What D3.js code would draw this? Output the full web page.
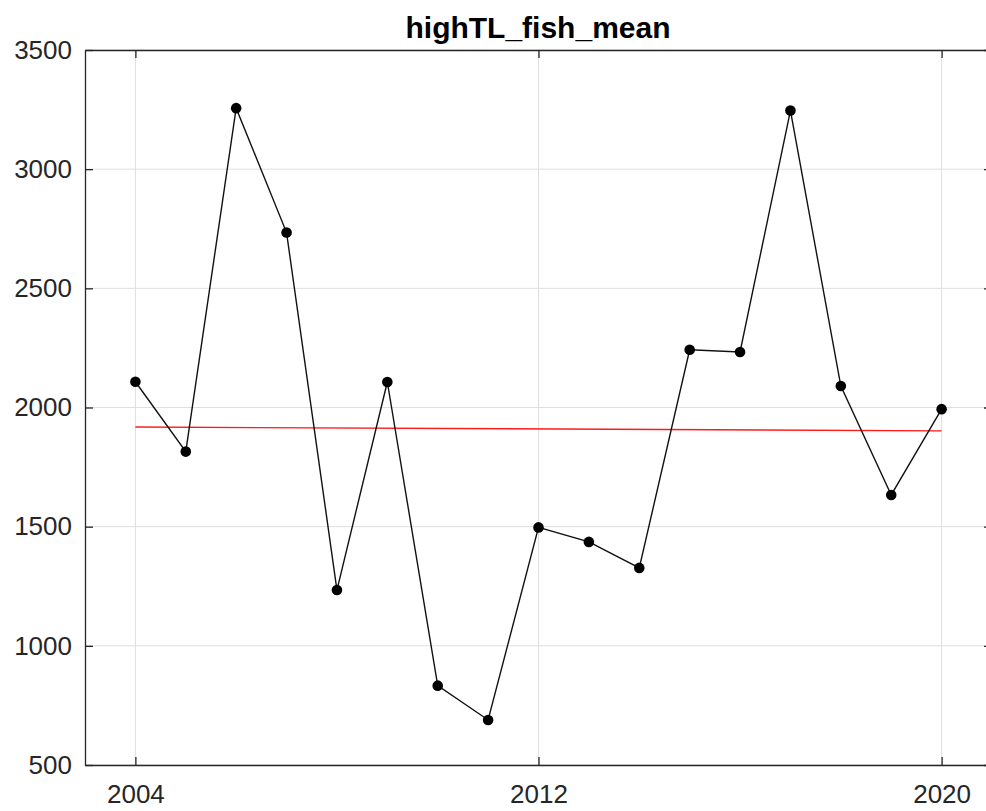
<!DOCTYPE html>
<html>
<head>
<meta charset="utf-8">
<script src="https://cdn.jsdelivr.net/npm/d3@7"></script>
<style>
  body { margin: 0; background: #fff; }
  svg { display: block; font-family: "Liberation Sans", Arial, sans-serif; }
</style>
</head>
<body>
<svg id="chart" width="986" height="811"></svg>
<script>
'use strict';

const years = [2004, 2005, 2006, 2007, 2008, 2009, 2010, 2011, 2012,
  2013, 2014, 2015, 2016, 2017, 2018, 2019, 2020];
const fishMean = [2108, 1815, 3256, 2734, 1234, 2107, 833, 689, 1497,
  1436, 1327, 2242, 2233, 3246, 2090, 1633, 1993];
const trendYears = [2004, 2020];
const trendValues = [1918, 1902];
const xTicks = [2004, 2012, 2020];
const yTicks = [500, 1000, 1500, 2000, 2500, 3000, 3500];
const title = 'highTL_fish_mean';

const margin = { top: 50, right: -6, bottom: 46, left: 85 };
const width = 986, height = 811;
const axisColor = '#262626';

const svg = d3.select('#chart');

const x = d3.scaleLinear()
  .domain([2003, 2021])
  .range([margin.left, width - margin.right]);

const y = d3.scaleLinear()
  .domain([500, 3500])
  .range([height - margin.bottom, margin.top]);

const x0 = x.range()[0], x1 = x.range()[1];
const y0 = y.range()[0], y1 = y.range()[1];

// grid
svg.append('g')
  .selectAll('line')
  .data(xTicks)
  .join('line')
  .attr('x1', (d) => x(d)).attr('x2', (d) => x(d))
  .attr('y1', y1).attr('y2', y0)
  .attr('stroke', '#dfdfdf').attr('stroke-width', 1);

svg.append('g')
  .selectAll('line')
  .data(yTicks)
  .join('line')
  .attr('x1', x0).attr('x2', x1)
  .attr('y1', (d) => y(d)).attr('y2', (d) => y(d))
  .attr('stroke', '#dfdfdf').attr('stroke-width', 1);

// axes, ticks inward like matlab
const styleAxis = (g) =>
  g.call((g) => g.select('.domain').attr('stroke', axisColor).attr('stroke-width', 1.3))
    .call((g) => g.selectAll('.tick line').attr('stroke', axisColor).attr('stroke-width', 1.3))
    .call((g) => g.selectAll('.tick text').attr('fill', axisColor).attr('font-size', 26));

svg.append('g')
  .attr('transform', `translate(0,${y0})`)
  .call(d3.axisBottom(x).tickValues(xTicks).tickFormat(d3.format('d'))
    .tickSizeInner(-8).tickSizeOuter(0).tickPadding(20))
  .call(styleAxis);

svg.append('g')
  .attr('transform', `translate(0,${y1})`)
  .call(d3.axisTop(x).tickValues(xTicks).tickFormat('')
    .tickSizeInner(-8).tickSizeOuter(0))
  .call(styleAxis);

svg.append('g')
  .attr('transform', `translate(${x0},0)`)
  .call(d3.axisLeft(y).tickValues(yTicks).tickFormat(d3.format('d'))
    .tickSizeInner(-8).tickSizeOuter(0).tickPadding(13))
  .call(styleAxis);

svg.append('g')
  .attr('transform', `translate(${x1},0)`)
  .call(d3.axisRight(y).tickValues(yTicks).tickFormat('')
    .tickSizeInner(-8).tickSizeOuter(0))
  .call(styleAxis);

// trend line
const trend = trendYears.map((d, i) => [d, trendValues[i]]);
svg.append('path')
  .datum(trend)
  .attr('fill', 'none')
  .attr('stroke', '#ff1a1a')
  .attr('stroke-width', 1.4)
  .attr('d', d3.line().x((d) => x(d[0])).y((d) => y(d[1])));

// data line
const series = years.map((d, i) => [d, fishMean[i]]);
svg.append('path')
  .datum(series)
  .attr('fill', 'none')
  .attr('stroke', '#111')
  .attr('stroke-width', 1.4)
  .attr('d', d3.line().x((d) => x(d[0])).y((d) => y(d[1])));

svg.append('g')
  .selectAll('circle')
  .data(series)
  .join('circle')
  .attr('cx', (d) => x(d[0]))
  .attr('cy', (d) => y(d[1]))
  .attr('r', 5.3)
  .attr('fill', '#000');

// title
svg.append('text')
  .attr('x', 538)
  .attr('y', 38)
  .attr('text-anchor', 'middle')
  .attr('font-size', 30)
  .attr('font-weight', 'bold')
  .attr('fill', '#000')
  .text(title);
</script>
</body>
</html>
